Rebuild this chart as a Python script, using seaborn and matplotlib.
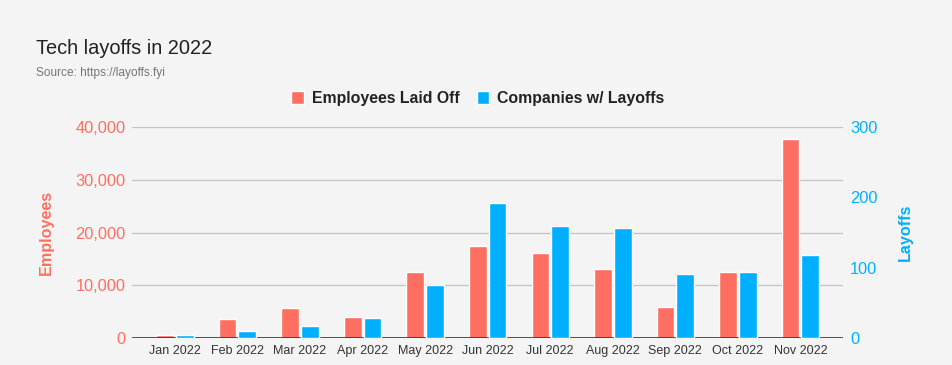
import numpy as np
import pandas as pd
import matplotlib
matplotlib.use("Agg")
import matplotlib.pyplot as plt
import seaborn as sns
from matplotlib.patches import Patch
from matplotlib.ticker import FuncFormatter

# ---- data --------------------------------------------------------------------
months = ["Jan 2022", "Feb 2022", "Mar 2022", "Apr 2022", "May 2022", "Jun 2022",
          "Jul 2022", "Aug 2022", "Sep 2022", "Oct 2022", "Nov 2022"]
employees = [510, 3600, 5700, 4000, 12500, 17400, 16100, 13100, 5900, 12500, 37700]
companies = [4, 10, 17, 28, 76, 192, 159, 156, 91, 94, 118]

EMP = "Employees Laid Off"
COMP = "Companies w/ Layoffs"
RED = "#ff6f61"
BLUE = "#00b0ff"
BG = "#f4f4f4"

sns.set_style("white")
plt.rcParams["font.family"] = ["Liberation Sans", "DejaVu Sans"]

df_emp = pd.DataFrame({"month": months, "value": employees, "series": EMP})
df_comp = pd.DataFrame({"month": months, "value": companies, "series": COMP})

fig = plt.figure(figsize=(9.52, 3.65), dpi=100, facecolor=BG)
ax = fig.add_axes([0.139, 0.074, 0.7465, 0.578])
ax.set_facecolor(BG)
ax2 = ax.twinx()

pal = {EMP: RED, COMP: BLUE}
kw = dict(x="month", y="value", hue="series", hue_order=[EMP, COMP],
          palette=pal, order=months, width=0.63, gap=0.1, dodge=True,
          legend=False, saturation=1, errorbar=None)
sns.barplot(data=df_emp, ax=ax, **kw)
sns.barplot(data=df_comp, ax=ax2, **kw)

ax.set_xlim(-0.68, 10.68)
ax.set_ylim(0, 40000)
ax2.set_ylim(0, 300)
ax.set_yticks(np.arange(0, 40001, 10000))
ax2.set_yticks([0, 100, 200, 300])
ax.yaxis.set_major_formatter(FuncFormatter(lambda v, p: f"{int(v):,}"))

# gridlines follow the left axis only
for v in np.arange(10000, 40001, 10000):
    ax.axhline(v, color="#c4c4c4", lw=0.9, zorder=0)
ax.axhline(0, color="#333333", lw=1.2, zorder=3)
ax.set_axisbelow(True)

for a in (ax, ax2):
    for s in a.spines.values():
        s.set_visible(False)
    a.tick_params(length=0)

ax.tick_params(axis="y", labelsize=11.8, labelcolor=RED, pad=5)
ax2.tick_params(axis="y", labelsize=11.8, labelcolor=BLUE, pad=5)
ax.tick_params(axis="x", labelsize=9, labelcolor="#333333", pad=5)

ax.set_xlabel("")
ax.set_ylabel("Employees", color=RED, fontsize=11.6, fontweight="bold", labelpad=15)
ax2.set_ylabel("Layoffs", color=BLUE, fontsize=11.6, fontweight="bold", labelpad=15,
               rotation=90)

fig.text(0.038, 0.868, "Tech layoffs in 2022", fontsize=14.4, color="#222222",
         va="center", ha="left")
fig.text(0.038, 0.8, "Source: https://layoffs.fyi", fontsize=8.6, color="#777777",
         va="center", ha="left")

handles = [Patch(facecolor=RED, label=EMP), Patch(facecolor=BLUE, label=COMP)]
leg = fig.legend(handles=handles, loc="center", bbox_to_anchor=(0.502, 0.73),
                 ncol=2, frameon=False, handlelength=0.8, handleheight=0.8,
                 handletextpad=0.5, columnspacing=1.1,
                 prop={"size": 11.4, "weight": "bold"})
for t in leg.get_texts():
    t.set_color("#222222")

fig.savefig("out.png", dpi=100, facecolor=BG)
